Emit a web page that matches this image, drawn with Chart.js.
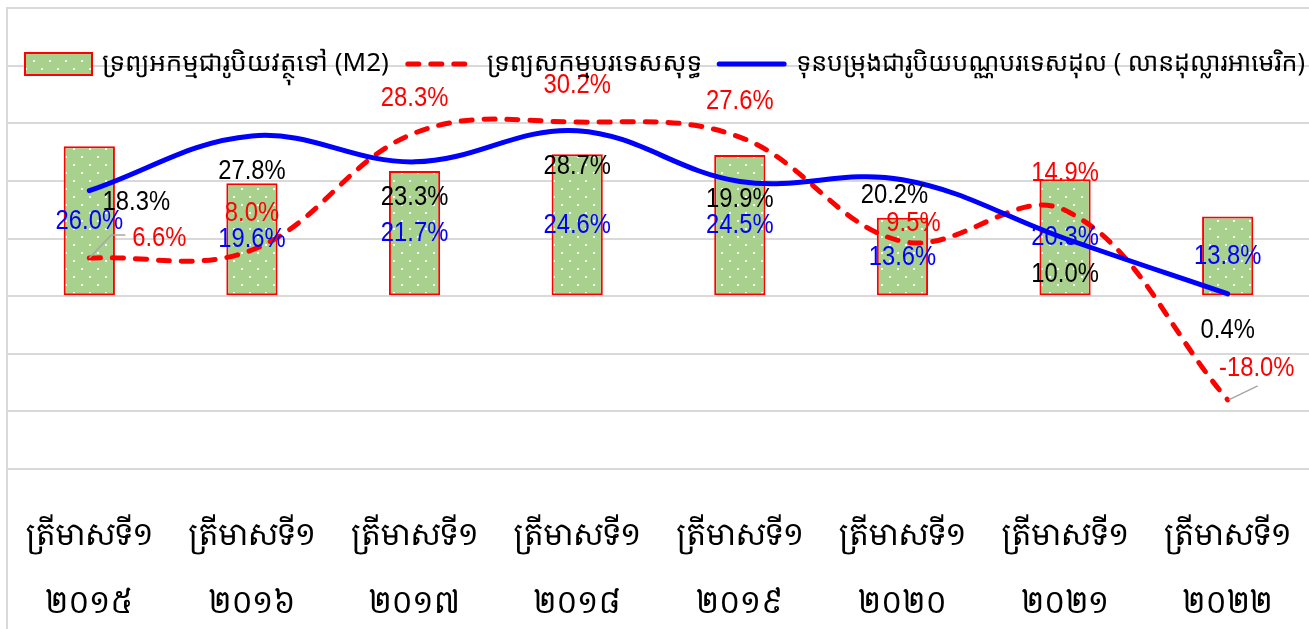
<!DOCTYPE html>
<html>
<head>
<meta charset="utf-8">
<script src="https://cdn.jsdelivr.net/npm/chart.js@4.4.1/dist/chart.umd.min.js"></script>
<style>
  html, body { margin: 0; padding: 0; background: #fff; }
  #wrap { position: relative; width: 1309px; height: 629px; }
</style>
</head>
<body>
<div id="wrap"><canvas id="chart" width="1309" height="629"></canvas></div>
<script>
const categories = [
    ['ត្រីមាសទី១', '២០១៥'],
    ['ត្រីមាសទី១', '២០១៦'],
    ['ត្រីមាសទី១', '២០១៧'],
    ['ត្រីមាសទី១', '២០១៨'],
    ['ត្រីមាសទី១', '២០១៩'],
    ['ត្រីមាសទី១', '២០២០'],
    ['ត្រីមាសទី១', '២០២១'],
    ['ត្រីមាសទី១', '២០២២']
];

const m2Growth = [26.0, 19.6, 21.7, 24.6, 24.5, 13.6, 20.3, 13.8];
const netForeignAssets = [6.6, 8.0, 28.3, 30.2, 27.6, 9.5, 14.9, -18.0];
const reserves = [18.3, 27.8, 23.3, 28.7, 19.9, 20.2, 10.0, 0.4];

const seriesNames = [
    'ទ្រព្យអកម្មជារូបិយវត្ថុទៅ (M2)',
    'ទ្រព្យសកម្មបរទេសសុទ្ធ',
    'ទុនបម្រុងជារូបិយបណ្ណបរទេសដុល ( លានដុល្លារអាមេរិក)'
];

const yMin = -30;
const yMax = 50;
const yStep = 10;

// label nudges in px, [dx, dy] from the point
const nfaLabelShift = [[70, -20], [0, -37], [0, -35], [0, -37], [0, -36], [11, -18], [0, -37], [29, -32]];
const reserveLabelShift = [[47, 12], [0, 35], [0, 35], [0, 36], [0, 18], [-8, 16], [0, 36], [0, 36]];

const KHMER = '"Noto Sans Khmer", "Khmer OS", "Khmer OS System", "Noto Sans", sans-serif';
const KHMER_TICK = '"Noto Serif Khmer", "Khmer OS Siemreap", "Noto Sans Khmer", sans-serif';
const NUM = '"Liberation Sans", Arial, sans-serif';
const GRID = '#d9d9d9';

function dotPattern() {
    const c = document.createElement('canvas');
    c.width = 16;
    c.height = 16;
    const g = c.getContext('2d');
    g.fillStyle = '#a9d18e';
    g.fillRect(0, 0, 16, 16);
    g.fillStyle = '#ffffff';
    g.fillRect(9, 4, 2, 2);
    g.fillRect(1, 12, 2, 2);
    return g.createPattern(c, 'repeat');
}

const pattern = dotPattern();

const framePlugin = {
    id: 'frame',
    beforeDraw(chart) {
        const ctx = chart.ctx;
        ctx.save();
        ctx.strokeStyle = GRID;
        ctx.lineWidth = 2;
        ctx.beginPath();
        ctx.moveTo(7, chart.height);
        ctx.lineTo(7, 8);
        ctx.lineTo(chart.width, 8);
        ctx.stroke();
        ctx.restore();
    }
};

// narrow-ish numbers like the original
function condensedText(ctx, text, x, y) {
    ctx.save();
    ctx.translate(x, y);
    ctx.scale(0.85, 1);
    ctx.fillText(text, 0, 0);
    ctx.restore();
}

const labelPlugin = {
    id: 'valueLabels',
    afterDatasetsDraw(chart) {
        const ctx = chart.ctx;
        const y = chart.scales.y;
        ctx.save();
        ctx.font = '28px ' + NUM;
        ctx.textAlign = 'center';
        ctx.textBaseline = 'middle';

        chart.data.datasets.forEach((ds, i) => {
            const meta = chart.getDatasetMeta(i);
            meta.data.forEach((el, j) => {
                const v = ds.data[j];
                let px = el.x;
                let py;
                if (ds.type === 'bar') {
                    py = y.getPixelForValue(v / 2);
                } else {
                    const s = ds.labelShift[j];
                    px += s[0];
                    py = el.y + s[1];
                }
                ctx.fillStyle = ds.labelColor;
                condensedText(ctx, v.toFixed(1) + '%', px, py);
            });
        });

        // leader lines for the two pushed-off labels
        const red = chart.getDatasetMeta(1).data;
        ctx.strokeStyle = '#a6a6a6';
        ctx.lineWidth = 1.5;
        ctx.beginPath();
        ctx.moveTo(red[0].x, red[0].y);
        ctx.lineTo(red[0].x + 22, red[0].y - 23);
        ctx.lineTo(red[0].x + 36, red[0].y - 23);
        ctx.moveTo(red[7].x + 1, red[7].y);
        ctx.lineTo(red[7].x + 30, red[7].y - 14);
        ctx.stroke();
        ctx.restore();
    }
};

const legendPlugin = {
    id: 'topLegend',
    afterDraw(chart) {
        const ctx = chart.ctx;
        const cy = 64;
        ctx.save();
        ctx.font = '26px ' + KHMER;
        ctx.textBaseline = 'middle';
        ctx.textAlign = 'left';
        let x = 25;

        ctx.fillStyle = pattern;
        ctx.fillRect(x, cy - 11, 67, 22);
        ctx.strokeStyle = '#ff0000';
        ctx.lineWidth = 2;
        ctx.strokeRect(x, cy - 11, 67, 22);
        x += 77;
        ctx.fillStyle = '#000';
        ctx.fillText(seriesNames[0], x, cy);
        x += ctx.measureText(seriesNames[0]).width + 16;

        ctx.strokeStyle = '#ff0000';
        ctx.lineWidth = 5;
        ctx.lineCap = 'round';
        ctx.setLineDash([11, 12]);
        ctx.beginPath();
        ctx.moveTo(x + 3, cy);
        ctx.lineTo(x + 65, cy);
        ctx.stroke();
        x += 82;
        ctx.fillText(seriesNames[1], x, cy);
        x += ctx.measureText(seriesNames[1]).width + 14;

        ctx.setLineDash([]);
        ctx.strokeStyle = '#0000ff';
        ctx.beginPath();
        ctx.moveTo(x + 3, cy);
        ctx.lineTo(x + 68, cy);
        ctx.stroke();
        x += 80;
        // squeeze the last entry so it fits like the original
        const room = chart.width - 4 - x;
        const w = ctx.measureText(seriesNames[2]).width;
        ctx.translate(x, cy);
        ctx.scale(Math.min(1, room / w), 1);
        ctx.fillText(seriesNames[2], 0, 0);
        ctx.restore();
    }
};

new Chart(document.getElementById('chart'), {
    data: {
        labels: categories,
        datasets: [
            {
                type: 'bar',
                label: seriesNames[0],
                data: m2Growth,
                backgroundColor: pattern,
                borderColor: '#ff0000',
                borderWidth: 2,
                borderSkipped: false,
                barPercentage: 0.315,
                categoryPercentage: 1,
                labelColor: '#0000ff',
                order: 3
            },
            {
                type: 'line',
                label: seriesNames[1],
                data: netForeignAssets,
                borderColor: '#ff0000',
                borderWidth: 5,
                borderDash: [11, 12],
                borderCapStyle: 'round',
                pointRadius: 0,
                tension: 0.38,
                fill: false,
                labelColor: '#ff0000',
                labelShift: nfaLabelShift,
                order: 2
            },
            {
                type: 'line',
                label: seriesNames[2],
                data: reserves,
                borderColor: '#0000ff',
                borderWidth: 5,
                borderCapStyle: 'round',
                pointRadius: 0,
                tension: 0.38,
                fill: false,
                labelColor: '#000000',
                labelShift: reserveLabelShift,
                order: 1
            }
        ]
    },
    options: {
        responsive: false,
        animation: false,
        layout: { padding: { left: 8, right: 0, top: 8, bottom: 0 } },
        plugins: {
            legend: { display: false },
            tooltip: { enabled: false }
        },
        scales: {
            x: {
                grid: { display: false },
                border: { display: false },
                ticks: {
                    color: '#000',
                    maxRotation: 0,
                    autoSkip: false,
                    padding: 26,
                    font: { family: KHMER_TICK, size: 30, lineHeight: 2.25 }
                },
                afterFit: (axis) => {
                    axis.height = 160;
                    axis.paddingLeft = 0;
                    axis.paddingRight = 0;
                }
            },
            y: {
                min: yMin,
                max: yMax,
                ticks: { display: false, stepSize: yStep },
                grid: { color: GRID, lineWidth: 2, drawTicks: false },
                border: { display: false },
                afterFit: (axis) => { axis.width = 0; }
            }
        }
    },
    plugins: [framePlugin, labelPlugin, legendPlugin]
});
</script>
</body>
</html>
